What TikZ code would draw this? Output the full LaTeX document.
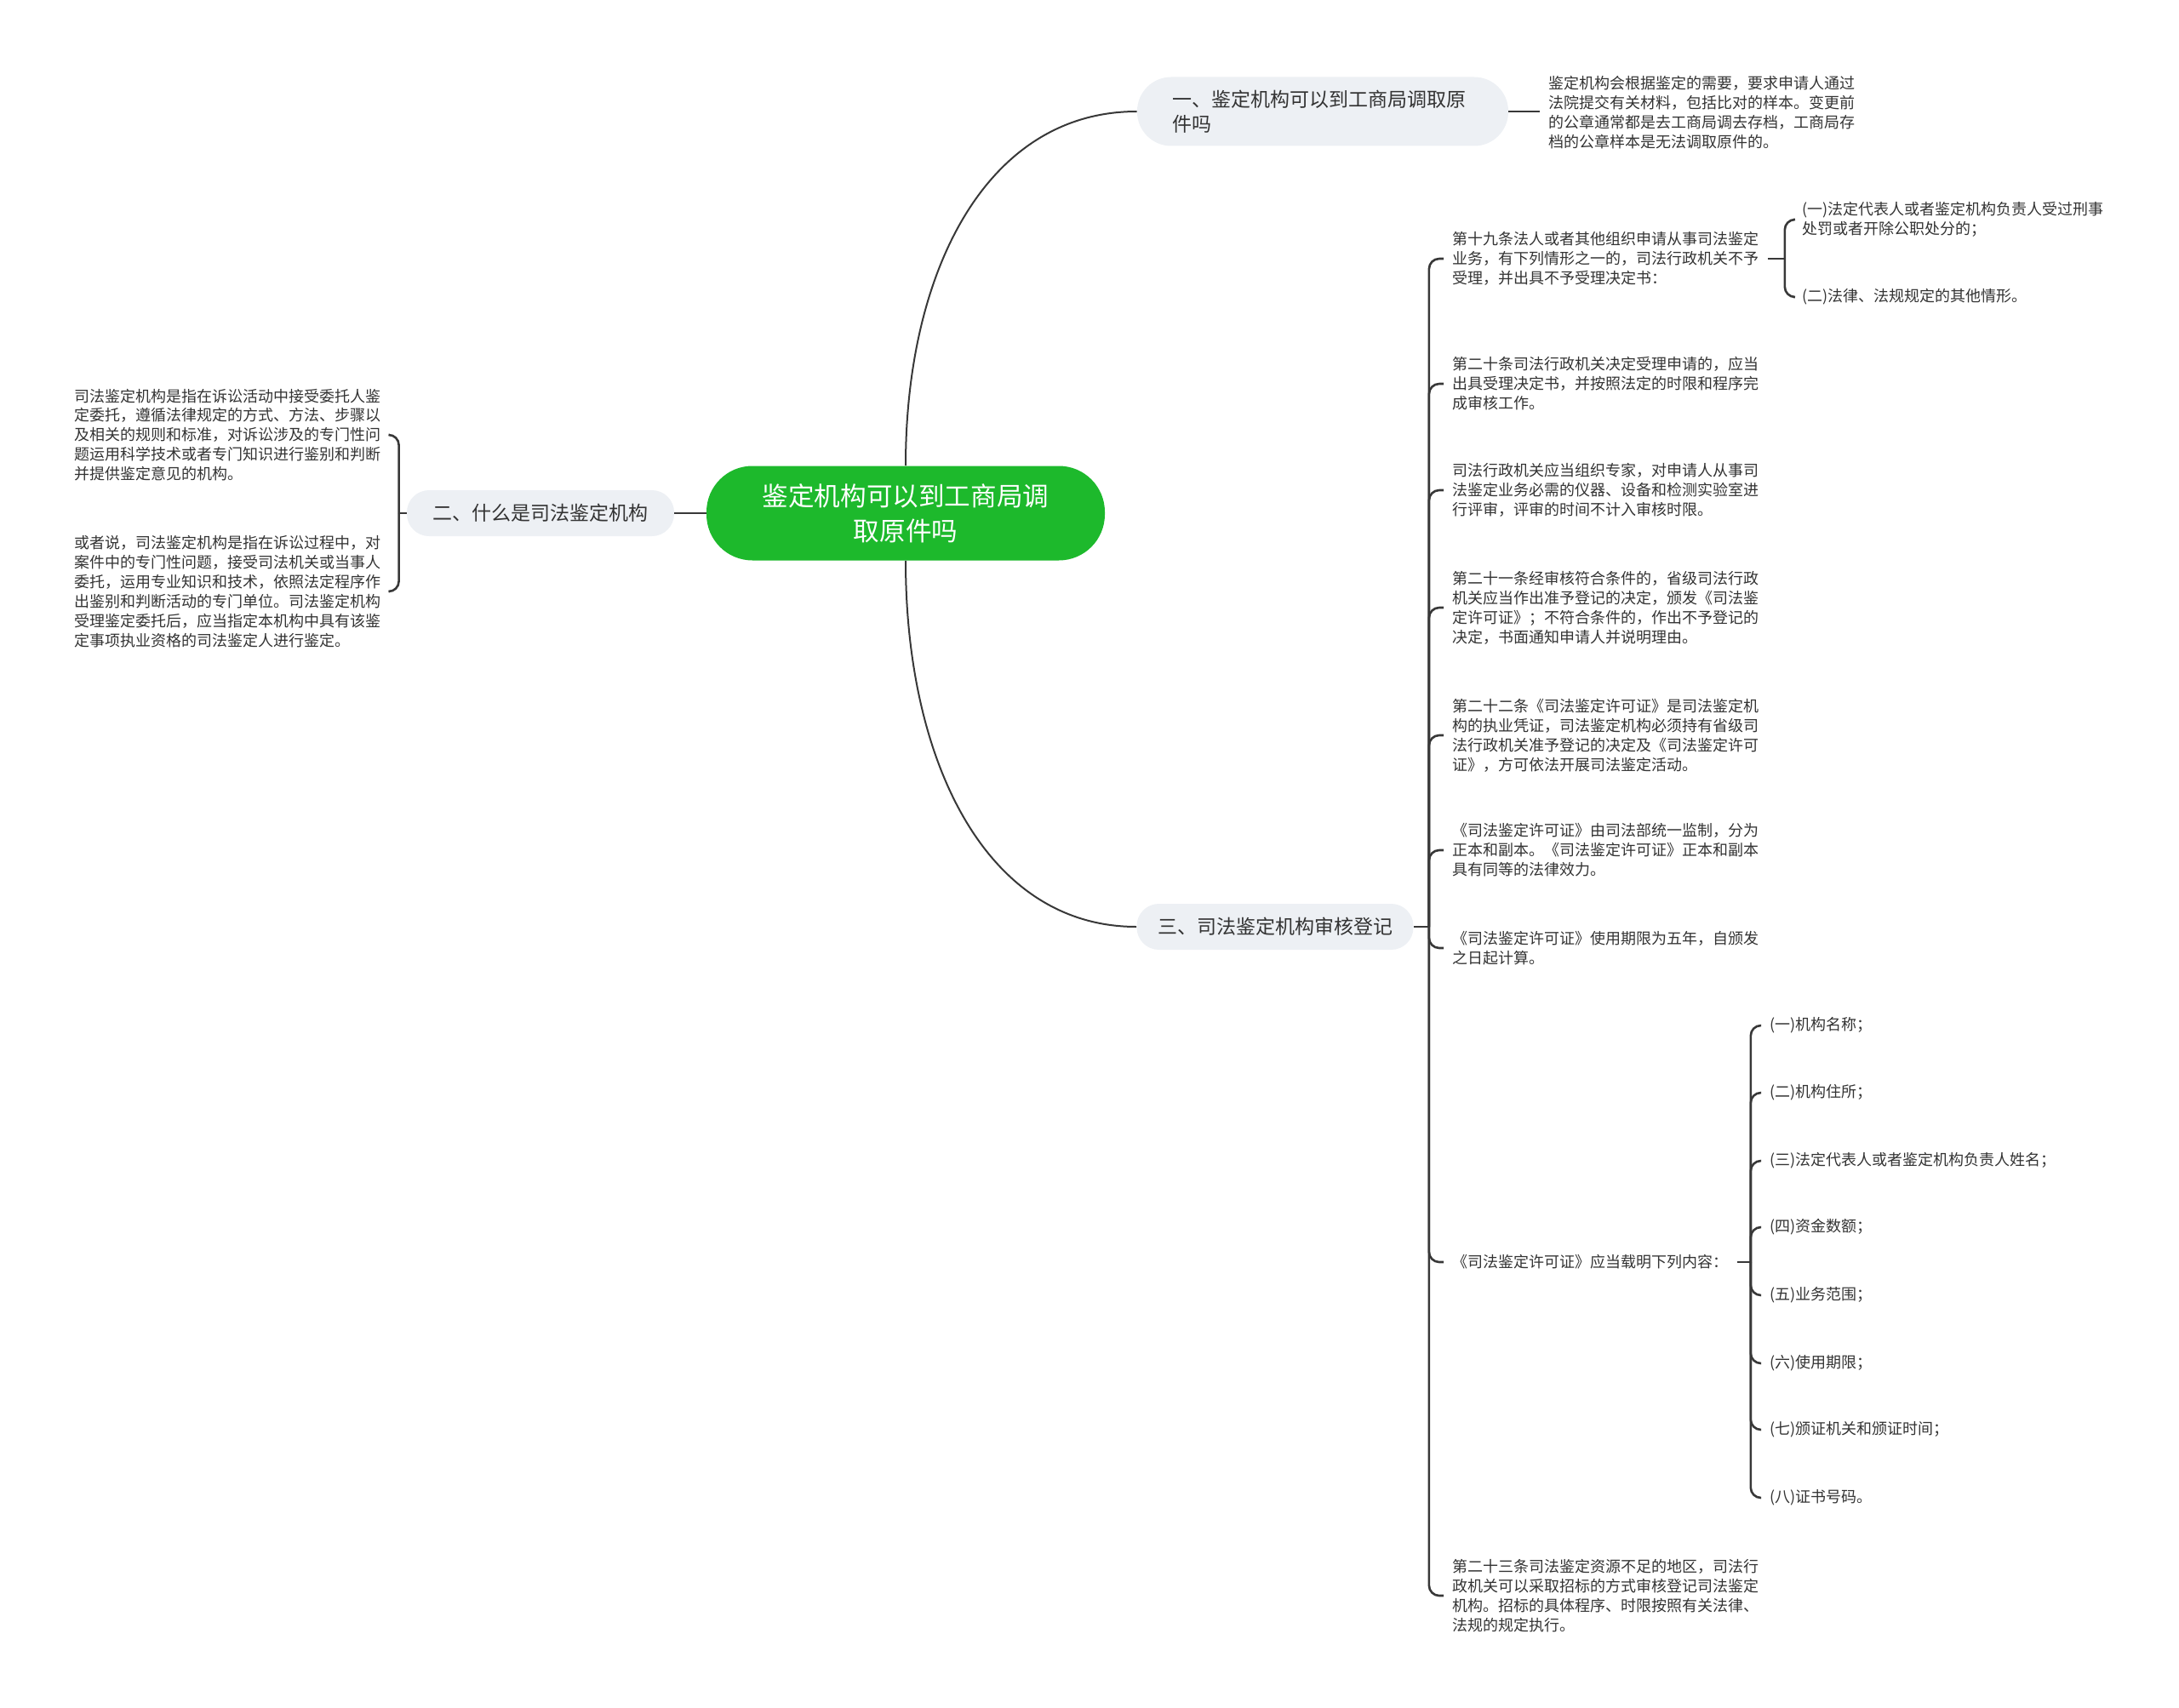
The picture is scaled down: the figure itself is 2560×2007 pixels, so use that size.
\documentclass[tikz,border=0pt]{standalone}
\usepackage{fontspec}
\setmainfont{Noto Sans CJK SC}
\usepackage{tikz}
\usetikzlibrary{positioning,calc}
\definecolor{hub}{HTML}{1DB92C}
\definecolor{pillgray}{HTML}{EDF0F4}
\definecolor{ink}{HTML}{333333}
\definecolor{wire}{HTML}{383838}

\begin{document}
\begin{tikzpicture}[x=0.5pt, y=-0.5pt,
  hubbox/.style={fill=hub, text=white, rounded corners=27pt, align=center, minimum width=234pt, minimum height=55.5pt, font=\fontsize{15.3}{20.4}\selectfont},
  pill/.style={fill=pillgray, text=ink, rounded corners=13pt, minimum height=27pt, font=\fontsize{11.5}{14.7}\selectfont},
  note/.style={text=ink, align=left, anchor=west, inner xsep=5pt, inner ysep=2pt, font=\fontsize{9}{11.45}\selectfont},
  link/.style={draw=wire, line width=1pt},
  fork/.style={draw=wire, line width=1.3pt, rounded corners=6pt}]
  \useasboundingbox (0,0) rectangle (2560,2007);
  \node[hubbox] (main) at (1064,603) {鉴定机构可以到工商局调\\取原件吗};
  \node[pill, rounded corners=20pt, align=left, text width=177pt, inner xsep=20.5pt, minimum height=40.5pt] (fetch) at (1554,131) {一、鉴定机构可以到工商局调取原\\件吗};
  \node[pill, minimum width=157pt] (whatis) at (635,603) {二、什么是司法鉴定机构};
  \node[pill, minimum width=162.5pt] (review) at (1498,1089) {三、司法鉴定机构审核登记};
  % branch one
  \node[note] (fetchnote) at (1809,132) {鉴定机构会根据鉴定的需要，要求申请人通过\\法院提交有关材料，包括比对的样本。变更前\\的公章通常都是去工商局调去存档，工商局存\\档的公章样本是无法调取原件的。};
  % branch two
  \node[note] (defn) at (77,511) {司法鉴定机构是指在诉讼活动中接受委托人鉴\\定委托，遵循法律规定的方式、方法、步骤以\\及相关的规则和标准，对诉讼涉及的专门性问\\题运用科学技术或者专门知识进行鉴别和判断\\并提供鉴定意见的机构。};
  \node[note] (alt) at (77,695) {或者说，司法鉴定机构是指在诉讼过程中，对\\案件中的专门性问题，接受司法机关或当事人\\委托，运用专业知识和技术，依照法定程序作\\出鉴别和判断活动的专门单位。司法鉴定机构\\受理鉴定委托后，应当指定本机构中具有该鉴\\定事项执业资格的司法鉴定人进行鉴定。};
  % branch three
  \node[note] (art19) at (1696,304) {第十九条法人或者其他组织申请从事司法鉴定\\业务，有下列情形之一的，司法行政机关不予\\受理，并出具不予受理决定书：};
  \node[note] (art19a) at (2107,258) {(一)法定代表人或者鉴定机构负责人受过刑事\\处罚或者开除公职处分的；};
  \node[note] (art19b) at (2107,349) {(二)法律、法规规定的其他情形。};
  \node[note] (art20) at (1696,451) {第二十条司法行政机关决定受理申请的，应当\\出具受理决定书，并按照法定的时限和程序完\\成审核工作。};
  \node[note] (experts) at (1696,576) {司法行政机关应当组织专家，对申请人从事司\\法鉴定业务必需的仪器、设备和检测实验室进\\行评审，评审的时间不计入审核时限。};
  \node[note] (art21) at (1696,714) {第二十一条经审核符合条件的，省级司法行政\\机关应当作出准予登记的决定，颁发《司法鉴\\定许可证》；不符合条件的，作出不予登记的\\决定，书面通知申请人并说明理由。};
  \node[note] (art22) at (1696,864) {第二十二条《司法鉴定许可证》是司法鉴定机\\构的执业凭证，司法鉴定机构必须持有省级司\\法行政机关准予登记的决定及《司法鉴定许可\\证》，方可依法开展司法鉴定活动。};
  \node[note] (copies) at (1696,999) {《司法鉴定许可证》由司法部统一监制，分为\\正本和副本。《司法鉴定许可证》正本和副本\\具有同等的法律效力。};
  \node[note] (term) at (1696,1114) {《司法鉴定许可证》使用期限为五年，自颁发\\之日起计算。};
  \node[note] (permit) at (1696,1483) {《司法鉴定许可证》应当载明下列内容：};
  \node[note] (iname) at (2069,1205) {(一)机构名称；};
  \node[note] (iseat) at (2069,1284) {(二)机构住所；};
  \node[note] (ihead) at (2069,1364) {(三)法定代表人或者鉴定机构负责人姓名；};
  \node[note] (ifund) at (2069,1442) {(四)资金数额；};
  \node[note] (iscope) at (2069,1522) {(五)业务范围；};
  \node[note] (iterm) at (2069,1602) {(六)使用期限；};
  \node[note] (iissue) at (2069,1680) {(七)颁证机关和颁证时间；};
  \node[note] (inum) at (2069,1760) {(八)证书号码。};
  \node[note] (art23) at (1696,1875) {第二十三条司法鉴定资源不足的地区，司法行\\政机关可以采取招标的方式审核登记司法鉴定\\机构。招标的具体程序、时限按照有关法律、\\法规的规定执行。};
  % connectors
  \coordinate (upbend) at (main.north |- fetch.west);
  \coordinate (downbend) at (main.south |- review.west);
  \draw[link] (main.north) .. controls ($(main.north)!0.55!(upbend)$) and ($(upbend)!0.35!(fetch.west)$) .. (fetch.west);
  \draw[link] (main.south) .. controls ($(main.south)!0.55!(downbend)$) and ($(downbend)!0.35!(review.west)$) .. (review.west);
  \draw[link] (main.west) -- (whatis.east);
  \draw[link] (fetch.east) -- (fetchnote.west |- fetch.east);
  \coordinate (lfork) at ($(whatis.west)+(-9,0)$);
  \draw[link] (whatis.west) -- (lfork);
  \draw[fork] (lfork) |- (defn.east);
  \draw[fork] (lfork) |- (alt.east);
  \coordinate (rfork) at ($(review.east)+(18,0)$);
  \draw[link] (review.east) -- (rfork);
  \draw[fork] (rfork) |- (art19.west);
  \draw[fork] (rfork) |- (art20.west);
  \draw[fork] (rfork) |- (experts.west);
  \draw[fork] (rfork) |- (art21.west);
  \draw[fork] (rfork) |- (art22.west);
  \draw[fork] (rfork) |- (copies.west);
  \draw[fork] (rfork) |- (term.west);
  \draw[fork] (rfork) |- (permit.west);
  \draw[fork] (rfork) |- (art23.west);
  \coordinate (sfork) at ($(art19.east)+(20,0)$);
  \draw[link] (art19.east) -- (sfork);
  \draw[fork] (sfork) |- (art19a.west);
  \draw[fork] (sfork) |- (art19b.west);
  \coordinate (pfork) at ($(permit.east)+(16,0)$);
  \draw[link] (permit.east) -- (pfork);
  \draw[fork] (pfork) |- (iname.west);
  \draw[fork] (pfork) |- (iseat.west);
  \draw[fork] (pfork) |- (ihead.west);
  \draw[fork] (pfork) |- (ifund.west);
  \draw[fork] (pfork) |- (iscope.west);
  \draw[fork] (pfork) |- (iterm.west);
  \draw[fork] (pfork) |- (iissue.west);
  \draw[fork] (pfork) |- (inum.west);
\end{tikzpicture}
\end{document}
